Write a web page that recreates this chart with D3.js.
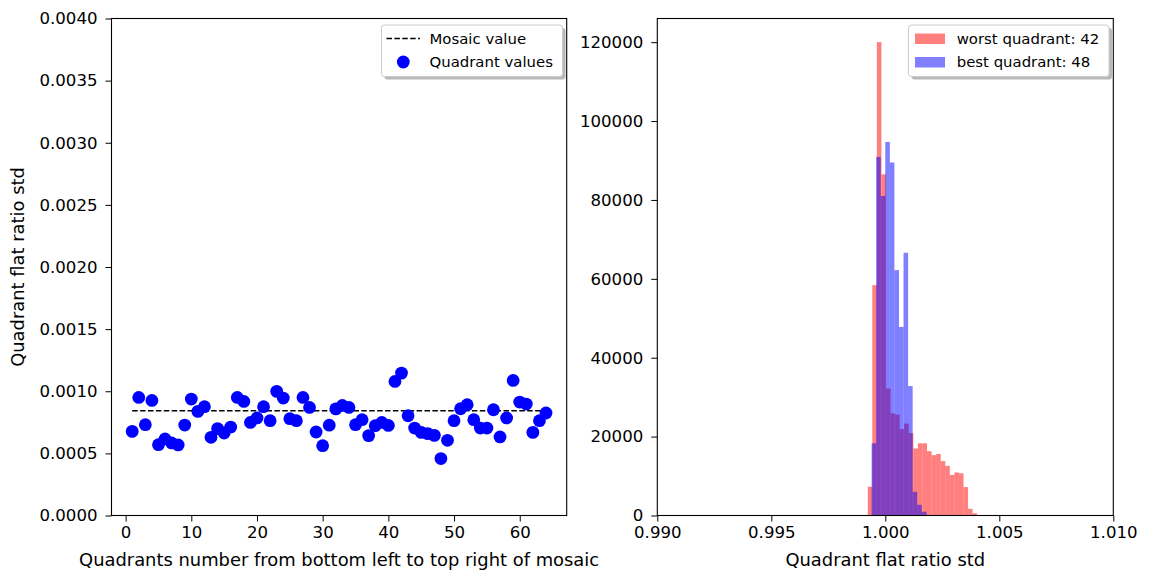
<!DOCTYPE html>
<html>
<head>
<meta charset="utf-8">
<script src="https://cdn.jsdelivr.net/npm/d3@7"></script>
<style>
  html, body { margin: 0; padding: 0; background: #fff; }
  svg { display: block; font-family: "DejaVu Sans", sans-serif; }
</style>
</head>
<body>
<svg id="chart" width="1149" height="573"></svg>
<script>
// ---- Left panel: per-quadrant flat ratio std ----
const quadrantIds = d3.range(1, 65);
const quadrantValues = [
  0.000677, 0.000950, 0.000731, 0.000926, 0.000570, 0.000616, 0.000584, 0.000568,
  0.000728, 0.000937, 0.000838, 0.000876, 0.000629, 0.000699, 0.000664, 0.000712,
  0.000950, 0.000918, 0.000749, 0.000785, 0.000876, 0.000763, 0.000999, 0.000945,
  0.000779, 0.000763, 0.000950, 0.000870, 0.000672, 0.000562, 0.000727, 0.000858,
  0.000886, 0.000870, 0.000731, 0.000771, 0.000643, 0.000723, 0.000749, 0.000725,
  0.001079, 0.001146, 0.000803, 0.000704, 0.000669, 0.000659, 0.000645, 0.000458,
  0.000605, 0.000763, 0.000859, 0.000892, 0.000771, 0.000704, 0.000704, 0.000851,
  0.000632, 0.000785, 0.001087, 0.000913, 0.000897, 0.000669, 0.000763, 0.000825
];
const mosaicValue = 0.000843;
const leftYTicks = [0, 0.0005, 0.001, 0.0015, 0.002, 0.0025, 0.003, 0.0035, 0.004];
const leftXTicks = [0, 10, 20, 30, 40, 50, 60];

// ---- Right panel: pixel histograms of worst / best quadrant ----
const worstEdges = [
  0.99923, 0.99943, 0.99963, 0.99983, 1.00003, 1.00023, 1.00043, 1.00063, 1.00083,
  1.00103, 1.00123, 1.00143, 1.00163, 1.00183, 1.00203, 1.00223, 1.00243, 1.00263,
  1.00283, 1.00303, 1.00323, 1.00343, 1.00363, 1.00383, 1.00403
];
const worstCounts = [
  7300, 58400, 120000, 86500, 32200, 25900, 25600, 21900, 23300, 20900, 17000, 18300,
  18300, 16300, 15300, 15600, 13800, 12600, 10300, 10900, 10700, 7200, 1700, 560
];
const bestEdges = [
  0.99940, 0.99960, 0.99980, 1.00000, 1.00020, 1.00040, 1.00060, 1.00080, 1.00100,
  1.00120, 1.00140, 1.00160, 1.00181
];
const bestCounts = [
  18300, 90900, 81000, 94700, 89500, 62200, 47800, 66600, 32800, 6000, 2700, 960
];
const rightXTicks = [0.990, 0.995, 1.000, 1.005, 1.010];
const rightYTicks = [0, 20000, 40000, 60000, 80000, 100000, 120000];
const worstLabel = "worst quadrant: 42";
const bestLabel = "best quadrant: 48";

const svg = d3.select("#chart");
const TICK_FONT = 16.6;
const LABEL_FONT = 17.9;
const LEGEND_FONT = 14.9;

const plotTop = 18.5, plotBottom = 515.5;
const L = { x0: 111.5, x1: 566.7 };
const R = { x0: 657.3, x1: 1113.3 };

// Drop-shadowed, rounded legend frame
function legendFrame(g, x, y, w, h) {
  g.append("rect").attr("x", x + 3).attr("y", y + 3).attr("width", w).attr("height", h)
    .attr("rx", 3).attr("fill", "#808080").attr("opacity", 0.55);
  g.append("rect").attr("x", x).attr("y", y).attr("width", w).attr("height", h)
    .attr("rx", 3).attr("fill", "#fff").attr("stroke", "#cccccc").attr("stroke-width", 1);
}

function styleAxis(g) {
  g.selectAll(".domain").remove();
  g.selectAll(".tick line").attr("stroke", "#000").attr("stroke-width", 1);
  g.selectAll(".tick text").attr("fill", "#000").style("font-size", TICK_FONT + "px")
    .style("font-family", "DejaVu Sans");
}

function frame(x0, x1) {
  svg.append("rect").attr("x", x0).attr("y", plotTop).attr("width", x1 - x0)
    .attr("height", plotBottom - plotTop).attr("fill", "none").attr("stroke", "#000").attr("stroke-width", 1.1);
}

// ===== Left panel =====
const xL = d3.scaleLinear().domain([-2.15, 67.15]).range([L.x0, L.x1]);
const yL = d3.scaleLinear().domain([0, 0.004]).range([plotBottom, plotTop]);

const gLx = svg.append("g").attr("transform", `translate(0,${plotBottom})`)
  .call(d3.axisBottom(xL).tickValues(leftXTicks).tickSize(6).tickPadding(5).tickFormat(d3.format("d")));
styleAxis(gLx);
const gLy = svg.append("g").attr("transform", `translate(${L.x0},0)`)
  .call(d3.axisLeft(yL).tickValues(leftYTicks).tickSize(6).tickPadding(8).tickFormat(d3.format(".4f")));
styleAxis(gLy);

svg.append("line")
  .attr("x1", xL(quadrantIds[0])).attr("x2", xL(quadrantIds[quadrantIds.length - 1]))
  .attr("y1", yL(mosaicValue)).attr("y2", yL(mosaicValue))
  .attr("stroke", "#000").attr("stroke-width", 1.5).attr("stroke-dasharray", "5.5,2.4");

svg.append("g").selectAll("circle").data(quadrantValues).join("circle")
  .attr("cx", (d, i) => xL(quadrantIds[i])).attr("cy", d => yL(d))
  .attr("r", 6.4).attr("fill", "#0000ff");

frame(L.x0, L.x1);

svg.append("text").attr("x", (L.x0 + L.x1) / 2).attr("y", 566)
  .attr("text-anchor", "middle").style("font-size", LABEL_FONT + "px")
  .text("Quadrants number from bottom left to top right of mosaic");
svg.append("text").attr("transform", `translate(24,${(plotTop + plotBottom) / 2}) rotate(-90)`)
  .attr("text-anchor", "middle").style("font-size", LABEL_FONT + "px")
  .text("Quadrant flat ratio std");

// Left legend
const lgL = svg.append("g");
legendFrame(lgL, 381.5, 25, 181, 51.5);
lgL.append("line").attr("x1", 386.5).attr("x2", 420).attr("y1", 38.5).attr("y2", 38.5)
  .attr("stroke", "#000").attr("stroke-width", 1.5).attr("stroke-dasharray", "5.5,2.4");
lgL.append("circle").attr("cx", 403.3).attr("cy", 62).attr("r", 6.4).attr("fill", "#0000ff");
lgL.append("text").attr("x", 429.5).attr("y", 38.5).attr("dy", "0.35em")
  .style("font-size", LEGEND_FONT + "px").text("Mosaic value");
lgL.append("text").attr("x", 429.5).attr("y", 62).attr("dy", "0.35em")
  .style("font-size", LEGEND_FONT + "px").text("Quadrant values");

// ===== Right panel =====
const xR = d3.scaleLinear().domain([0.990, 1.010]).range([R.x0, R.x1]);
const yR = d3.scaleLinear().domain([0, 126000]).range([plotBottom, plotTop]);

function histBars(edges, counts, color) {
  svg.append("g").selectAll("rect").data(counts).join("rect")
    .attr("x", (d, i) => xR(edges[i]))
    .attr("width", (d, i) => xR(edges[i + 1]) - xR(edges[i]))
    .attr("y", d => yR(d))
    .attr("height", d => yR(0) - yR(d))
    .attr("fill", color).attr("fill-opacity", 0.5);
}
histBars(worstEdges, worstCounts, "#ff0000");
histBars(bestEdges, bestCounts, "#0000ff");

const gRx = svg.append("g").attr("transform", `translate(0,${plotBottom})`)
  .call(d3.axisBottom(xR).tickValues(rightXTicks).tickSize(6).tickPadding(5).tickFormat(d3.format(".3f")));
styleAxis(gRx);
const gRy = svg.append("g").attr("transform", `translate(${R.x0},0)`)
  .call(d3.axisLeft(yR).tickValues(rightYTicks).tickSize(6).tickPadding(8).tickFormat(d3.format("d")));
styleAxis(gRy);

frame(R.x0, R.x1);

svg.append("text").attr("x", (R.x0 + R.x1) / 2).attr("y", 566)
  .attr("text-anchor", "middle").style("font-size", LABEL_FONT + "px")
  .text("Quadrant flat ratio std");

// Right legend
const lgR = svg.append("g");
legendFrame(lgR, 908.5, 25, 200.5, 51.5);
lgR.append("rect").attr("x", 915).attr("y", 33.5).attr("width", 30).attr("height", 10.5)
  .attr("fill", "#ff0000").attr("fill-opacity", 0.5);
lgR.append("rect").attr("x", 915).attr("y", 57).attr("width", 30).attr("height", 10.5)
  .attr("fill", "#0000ff").attr("fill-opacity", 0.5);
lgR.append("text").attr("x", 956.7).attr("y", 38.5).attr("dy", "0.35em")
  .style("font-size", LEGEND_FONT + "px").text(worstLabel);
lgR.append("text").attr("x", 956.7).attr("y", 62).attr("dy", "0.35em")
  .style("font-size", LEGEND_FONT + "px").text(bestLabel);
</script>
</body>
</html>
